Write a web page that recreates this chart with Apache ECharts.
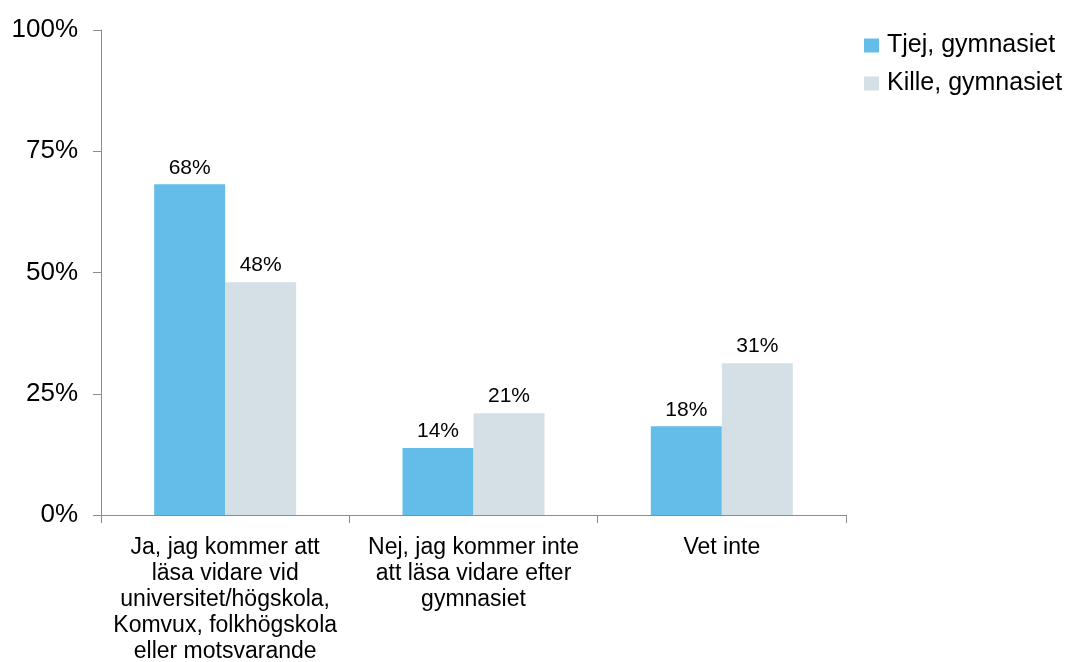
<!DOCTYPE html>
<html>
<head>
<meta charset="utf-8">
<script src="https://cdn.jsdelivr.net/npm/echarts@6/dist/echarts.min.js"></script>
<style>
  html, body { margin: 0; padding: 0; background: #fff; }
  #chart { width: 1079px; height: 662px; }
</style>
</head>
<body>
<div id="chart"></div>
<script>
// kategorier och värden (procent)
const categories = [
  'Ja, jag kommer att\nläsa vidare vid\nuniversitet/högskola,\nKomvux, folkhögskola\neller motsvarande',
  'Nej, jag kommer inte\natt läsa vidare efter\ngymnasiet',
  'Vet inte'
];
const seriesNames = ['Tjej, gymnasiet', 'Kille, gymnasiet'];
const tjejValues = [68.2, 13.8, 18.3];
const killeValues = [48.0, 21.0, 31.3];
const yTicks = [0, 25, 50, 75, 100];

const chart = echarts.init(document.getElementById('chart'));
const font = '"Liberation Sans", Arial, sans-serif';

const option = {
  animation: false,
  textStyle: { fontFamily: font },
  legend: {
    orient: 'vertical',
    left: 864,
    top: 33,
    padding: 0,
    itemWidth: 15,
    itemHeight: 14,
    itemGap: 13,
    icon: 'rect',
    textStyle: { fontSize: 25, color: '#000', fontFamily: font, padding: [0, 0, 0, 3] },
    data: seriesNames
  },
  grid: { left: 101, right: 233, top: 30, bottom: 147, outerBoundsMode: 'none' },
  xAxis: {
    type: 'category',
    data: categories,
    axisLine: { lineStyle: { color: '#8c8c8c', width: 1 } },
    axisTick: { show: true, length: 8, alignWithLabel: false, lineStyle: { color: '#8c8c8c' } },
    axisLabel: { fontSize: 23, color: '#000', lineHeight: 26, margin: 20, interval: 0, fontFamily: font }
  },
  yAxis: {
    type: 'value',
    min: 0,
    max: 100,
    interval: 25,
    axisLine: { show: true, lineStyle: { color: '#8c8c8c', width: 1 } },
    axisTick: { show: true, length: 8, lineStyle: { color: '#8c8c8c' } },
    splitLine: { show: false },
    axisLabel: {
      fontSize: 26, color: '#000', margin: 23, fontFamily: font,
      formatter: v => (yTicks.indexOf(v) >= 0 ? v + '%' : '')
    }
  },
  series: [
    {
      name: seriesNames[0],
      type: 'bar',
      data: tjejValues,
      barWidth: 71,
      barGap: '0%',
      itemStyle: { color: '#63bde8' },
      label: {
        show: true, position: 'top', distance: 6, fontSize: 21, color: '#000', fontFamily: font,
        formatter: p => Math.round(p.value) + '%'
      }
    },
    {
      name: seriesNames[1],
      type: 'bar',
      data: killeValues,
      barWidth: 71,
      barGap: '0%',
      itemStyle: { color: '#d5e0e6' },
      label: {
        show: true, position: 'top', distance: 6, fontSize: 21, color: '#000', fontFamily: font,
        formatter: p => Math.round(p.value) + '%'
      }
    }
  ]
};

chart.setOption(option);
window.addEventListener('resize', () => chart.resize());
</script>
</body>
</html>
